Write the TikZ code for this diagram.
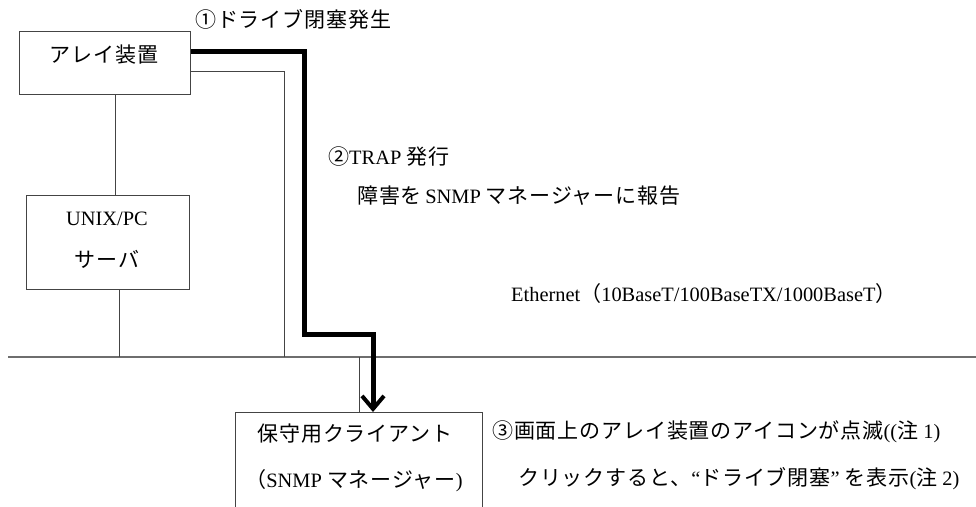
\documentclass[tikz,border=0pt]{standalone}
\usepackage{fontspec}
\setmainfont{Liberation Serif}
\newfontfamily\jp[Scale=1.03,LetterSpace=4]{Noto Sans CJK JP}
\usetikzlibrary{arrows.meta}
\definecolor{wire}{HTML}{444444}
\definecolor{lan}{HTML}{6E6E6E}
\tikzset{
  box/.style={draw=wire, line width=1pt, rectangle, inner sep=0pt, anchor=north west},
  txt/.style={inner sep=0pt, font=\fontsize{20.4}{24}\selectfont},
  thin/.style={draw=wire, line width=1pt},
  trap/.style={draw=black, line width=5pt, line join=miter,
    -{Straight Barb[length=13pt,width=22pt,line width=4pt]}},
}
\begin{document}
\begin{tikzpicture}[x=1pt,y=-1pt]
\useasboundingbox (0,0) rectangle (976,506);
\clip (0,0) rectangle (976,506);

% boxes
\node[box, minimum width=171pt, minimum height=63pt] (array) at (19,31) {};
\node[box, minimum width=163pt, minimum height=94pt] (server) at (26,195) {};
\node[box, minimum width=247pt, minimum height=140pt] (client) at (235,412) {};

% box captions
\node[txt] (arrayT) at (104,55) {\jp アレイ装置};
\node[txt] (serverT1) at (107,219) {UNIX/PC};
\node[txt] (serverT2) at (107,259) {\jp サーバ};
\node[txt] (clientT1) at (355,434) {\jp 保守用クライアント};
\node[txt] (clientT2) at (354,481) {{\jp （}SNMP {\jp マネージャー})};

% network
\coordinate (lanL) at (8,357);
\coordinate (lanR) at (976,357);
\draw[draw=lan, line width=2pt] (lanL) -- (lanR);

\coordinate (s1) at (115,94);
\coordinate (s2) at (119,357);
\draw[thin] (array.south west -| s1) -- (server.north west -| s1);
\draw[thin] (server.south west -| s2) -- (s2);

\coordinate (a1) at (284,71);
\draw[thin] (array.east |- a1) -- (a1) -- (a1 |- lanL);

\coordinate (c1) at (359,357);
\draw[thin] (c1) -- (c1 |- client.north);

% trap path
\coordinate (t0) at (190,51);
\coordinate (t1) at (304,51);
\coordinate (t2) at (304,334);
\coordinate (t3) at (373,334);
\draw[trap] (array.east |- t0) -- (t1) -- (t2) -- (t3) -- (t3 |- client.north);

% annotations
\node[txt, anchor=west] (n1) at (195,19) {\jp ①ドライブ閉塞発生};
\node[txt, anchor=west] (n2) at (328,157) {{\jp ②}TRAP {\jp 発行}};
\node[txt, anchor=west] (n2b) at (357,196) {{\jp 障害を}\,SNMP {\jp マネージャーに報告}};
\node[txt, anchor=west] (lanT) at (511,294) {Ethernet{\jp （}10BaseT/100BaseTX/1000BaseT{\jp ）}};
\node[txt, anchor=west] (n3) at (492,432) {{\jp ③画面上のアレイ装置のアイコンが点滅}((\jp 注\rmfamily~1)};
\node[txt, anchor=west] (n3b) at (518,479) {{\jp クリックすると、}“{\jp ドライブ閉塞}” {\jp を表示}(\jp 注\rmfamily~2)};
\end{tikzpicture}
\end{document}
